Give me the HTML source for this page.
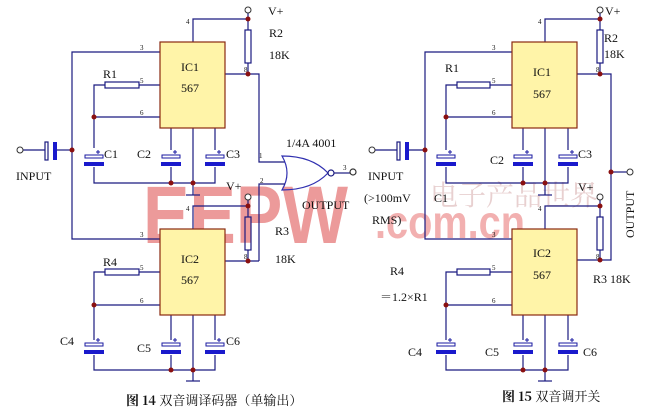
<!DOCTYPE html>
<html><head><meta charset="utf-8"><style>
body{margin:0;background:#fff}
svg{display:block}
text{font-family:"Liberation Serif","Noto Serif CJK SC",serif;fill:#111}
</style></head><body>
<svg width="667" height="416" viewBox="0 0 667 416" xmlns="http://www.w3.org/2000/svg">
<defs>
<g id="ic">
 <rect x="0" y="0" width="65" height="86" fill="#fff4a8" stroke="#8a2a10" stroke-width="1.2"/>
</g>
<g id="capv">
 <rect x="-9" y="-3" width="18" height="3" fill="none" stroke="#1a1aa0" stroke-width="1"/>
 <rect x="-10" y="4" width="20" height="4" fill="#1a1acc"/>
 <line x1="2" y1="-6" x2="6" y2="-6" stroke="#1a1aa0"/><line x1="4" y1="-8" x2="4" y2="-4" stroke="#1a1aa0"/>
</g>
<g id="dot"><circle r="2.5" fill="#8a1010"/></g>
</defs>
<!-- watermarks -->
<text x="143" y="243" font-family="Liberation Sans" font-weight="bold" font-size="82" textLength="205" lengthAdjust="spacingAndGlyphs" style="fill:#ec9a9a;font-family:'Liberation Sans',sans-serif">EEPW</text>
<text x="375" y="238" font-weight="bold" font-size="46" style="fill:#f2b0b0;font-family:'Liberation Sans',sans-serif" textLength="150" lengthAdjust="spacingAndGlyphs">.com.cn</text>
<text x="430" y="205" font-size="28" style="fill:#e8d0d0;font-family:'Noto Serif CJK SC',serif">电子产品世界</text>

<g stroke="#1a1a80" stroke-width="1.2" fill="none">
<!-- LEFT CIRCUIT -->
<!-- IC1 wires -->
<polyline points="193,42 193,19 248,19 248,30"/>
<line x1="248" y1="13" x2="248" y2="19"/>
<rect x="245" y="30" width="6" height="33"/>
<polyline points="248,63 248,74"/>
<polyline points="225,74 259,74 259,162 285,162"/>
<polyline points="160,52 72,52 72,239 160,239"/>
<polyline points="160,85 139,85"/><rect x="105" y="82" width="34" height="6"/>
<polyline points="105,85 94,85 94,148"/>
<line x1="94" y1="117" x2="160" y2="117"/>
<polyline points="94,167 94,183 215,183 215,167"/>
<line x1="171" y1="128" x2="171" y2="150"/><line x1="171" y1="167" x2="171" y2="183"/>
<line x1="215" y1="128" x2="215" y2="150"/>
<line x1="193" y1="128" x2="193" y2="195"/>
<line x1="186" y1="195" x2="200" y2="195"/>
<!-- input -->
<line x1="23" y1="150" x2="45" y2="150"/><line x1="57" y1="150" x2="72" y2="150"/>
<rect x="45" y="142" width="3" height="18"/>
<!-- gate -->
<path d="M282,156 Q292,173 282,190 Q312,190 328,173 Q312,156 282,156 Z" stroke="#3030b0"/>
<circle cx="331" cy="173" r="3"/>
<line x1="334" y1="173" x2="350" y2="173"/>
<circle cx="353" cy="172" r="3" stroke="#333"/>
<polyline points="285,184 259,184 259,261"/>
<!-- IC2 wires -->
<polyline points="193,229 193,206 248,206 248,217"/>
<line x1="248" y1="200" x2="248" y2="206"/>
<rect x="245" y="217" width="6" height="33"/>
<line x1="248" y1="250" x2="248" y2="261"/>
<line x1="225" y1="261" x2="259" y2="261"/>
<line x1="160" y1="272" x2="139" y2="272"/><rect x="105" y="269" width="34" height="6"/>
<polyline points="105,272 94,272 94,340"/>
<line x1="94" y1="305" x2="160" y2="305"/>
<polyline points="94,355 94,370 215,370 215,355"/>
<line x1="171" y1="315" x2="171" y2="340"/><line x1="171" y1="355" x2="171" y2="370"/>
<line x1="215" y1="315" x2="215" y2="340"/>
<line x1="193" y1="315" x2="193" y2="381"/>
<line x1="186" y1="381" x2="200" y2="381"/>

<!-- RIGHT CIRCUIT -->
<polyline points="545,42 545,19 600,19 600,30"/>
<line x1="600" y1="13" x2="600" y2="19"/>
<rect x="597" y="30" width="6" height="33"/>
<line x1="600" y1="63" x2="600" y2="74"/>
<polyline points="577,74 611,74 611,260 577,260"/>
<line x1="611" y1="172" x2="627" y2="172"/>
<polyline points="512,52 425,52 425,239 512,239"/>
<line x1="512" y1="85" x2="490" y2="85"/><rect x="457" y="82" width="33" height="6"/>
<polyline points="457,85 446,85 446,150"/>
<line x1="446" y1="117" x2="512" y2="117"/>
<polyline points="446,167 446,183 568,183 568,167"/>
<line x1="523" y1="128" x2="523" y2="150"/><line x1="523" y1="167" x2="523" y2="183"/>
<line x1="568" y1="128" x2="568" y2="150"/>
<line x1="545" y1="128" x2="545" y2="195"/>
<line x1="538" y1="195" x2="552" y2="195"/>
<line x1="375" y1="150" x2="397" y2="150"/><line x1="408" y1="150" x2="425" y2="150"/>
<rect x="397" y="142" width="3" height="18"/>
<polyline points="545,229 545,206 600,206 600,217"/>
<line x1="600" y1="200" x2="600" y2="206"/>
<rect x="597" y="217" width="6" height="33"/>
<line x1="600" y1="250" x2="600" y2="260"/>
<line x1="512" y1="272" x2="490" y2="272"/><rect x="457" y="269" width="33" height="6"/>
<polyline points="457,272 446,272 446,340"/>
<line x1="446" y1="305" x2="512" y2="305"/>
<polyline points="446,355 446,370 568,370 568,355"/>
<line x1="523" y1="315" x2="523" y2="340"/><line x1="523" y1="355" x2="523" y2="370"/>
<line x1="568" y1="315" x2="568" y2="340"/>
<line x1="545" y1="315" x2="545" y2="381"/>
<line x1="538" y1="381" x2="552" y2="381"/>
</g>
<g stroke="#333" fill="#fff" stroke-width="1">
<circle cx="248" cy="10" r="3"/><circle cx="248" cy="197" r="3"/><circle cx="20" cy="150" r="3"/>
<circle cx="600" cy="10" r="3"/><circle cx="600" cy="197" r="3"/><circle cx="372" cy="150" r="3"/><circle cx="630" cy="172" r="3"/>
</g>
<rect x="53" y="142" width="4" height="18" fill="#1a1acc"/>
<rect x="405" y="142" width="4" height="18" fill="#1a1acc"/>
<use href="#ic" x="160" y="42"/><use href="#ic" x="160" y="229"/>
<use href="#ic" x="512" y="42"/><use href="#ic" x="512" y="229"/>
<g>
<use href="#capv" x="94" y="158"/><use href="#capv" x="171" y="158"/><use href="#capv" x="215" y="158"/>
<use href="#capv" x="94" y="346"/><use href="#capv" x="171" y="346"/><use href="#capv" x="215" y="346"/>
<use href="#capv" x="446" y="158"/><use href="#capv" x="523" y="158"/><use href="#capv" x="568" y="158"/>
<use href="#capv" x="446" y="346"/><use href="#capv" x="523" y="346"/><use href="#capv" x="568" y="346"/>
</g>
<g>
<use href="#dot" x="248" y="19"/><use href="#dot" x="248" y="74"/><use href="#dot" x="72" y="150"/><use href="#dot" x="94" y="117"/>
<use href="#dot" x="171" y="183"/><use href="#dot" x="193" y="183"/>
<use href="#dot" x="248" y="206"/><use href="#dot" x="248" y="261"/><use href="#dot" x="94" y="305"/>
<use href="#dot" x="171" y="370"/><use href="#dot" x="193" y="370"/>
<use href="#dot" x="600" y="19"/><use href="#dot" x="600" y="74"/><use href="#dot" x="425" y="150"/><use href="#dot" x="446" y="117"/>
<use href="#dot" x="523" y="183"/><use href="#dot" x="545" y="183"/><use href="#dot" x="611" y="172"/>
<use href="#dot" x="600" y="206"/><use href="#dot" x="600" y="260"/><use href="#dot" x="446" y="305"/>
<use href="#dot" x="523" y="370"/><use href="#dot" x="545" y="370"/>
</g>
<g font-size="12">
<text x="268" y="15">V+</text><text x="269" y="37">R2</text><text x="269" y="59">18K</text>
<text x="181" y="71">IC1</text><text x="181" y="92">567</text>
<text x="103" y="78">R1</text><text x="104" y="158">C1</text><text x="137" y="158">C2</text><text x="226" y="158">C3</text>
<text x="16" y="180">INPUT</text><text x="286" y="147">1/4A 4001</text><text x="302" y="209">OUTPUT</text>
<text x="226" y="190">V+</text><text x="275" y="235">R3</text><text x="275" y="263">18K</text>
<text x="181" y="263">IC2</text><text x="181" y="284">567</text>
<text x="103" y="266">R4</text><text x="60" y="345">C4</text><text x="137" y="352">C5</text><text x="226" y="345">C6</text>
<text x="605" y="15">V+</text><text x="604" y="42">R2</text><text x="604" y="58">18K</text>
<text x="533" y="76">IC1</text><text x="533" y="98">567</text>
<text x="445" y="72">R1</text><text x="490" y="164">C2</text><text x="578" y="158">C3</text>
<text x="368" y="180">INPUT</text><text x="364" y="202">(&gt;100mV</text><text x="372" y="224">RMS)</text>
<text x="434" y="202">C1</text><text x="578" y="191">V+</text>
<text x="533" y="257">IC2</text><text x="533" y="279">567</text>
<text x="390" y="275">R4</text><text x="380" y="301">＝1.2×R1</text><text x="593" y="283">R3  18K</text>
<text x="408" y="356">C4</text><text x="485" y="356">C5</text><text x="583" y="356">C6</text>
<text transform="translate(634,238) rotate(-90)">OUTPUT</text>
</g>
<g font-size="7" style="font-family:'Liberation Sans',sans-serif">
<text x="140" y="50">3</text><text x="140" y="83">5</text><text x="140" y="115">6</text><text x="244" y="72">8</text><text x="186" y="24">4</text>
<text x="140" y="237">3</text><text x="140" y="270">5</text><text x="140" y="303">6</text><text x="244" y="259">8</text><text x="186" y="211">4</text>
<text x="259" y="158">1</text><text x="260" y="183">2</text><text x="343" y="170">3</text>
<text x="492" y="50">3</text><text x="492" y="83">5</text><text x="492" y="115">6</text><text x="596" y="72">8</text><text x="538" y="24">4</text>
<text x="492" y="237">3</text><text x="492" y="270">5</text><text x="492" y="303">6</text><text x="596" y="259">8</text><text x="538" y="211">4</text>
</g>
<text x="126" y="405" font-size="13" style="font-family:'Noto Serif CJK SC',serif"><tspan font-weight="bold">图 14</tspan> 双音调译码器（单输出）</text>
<text x="502" y="401" font-size="13" style="font-family:'Noto Serif CJK SC',serif"><tspan font-weight="bold">图 15</tspan> 双音调开关</text>
</svg>
</body></html>
